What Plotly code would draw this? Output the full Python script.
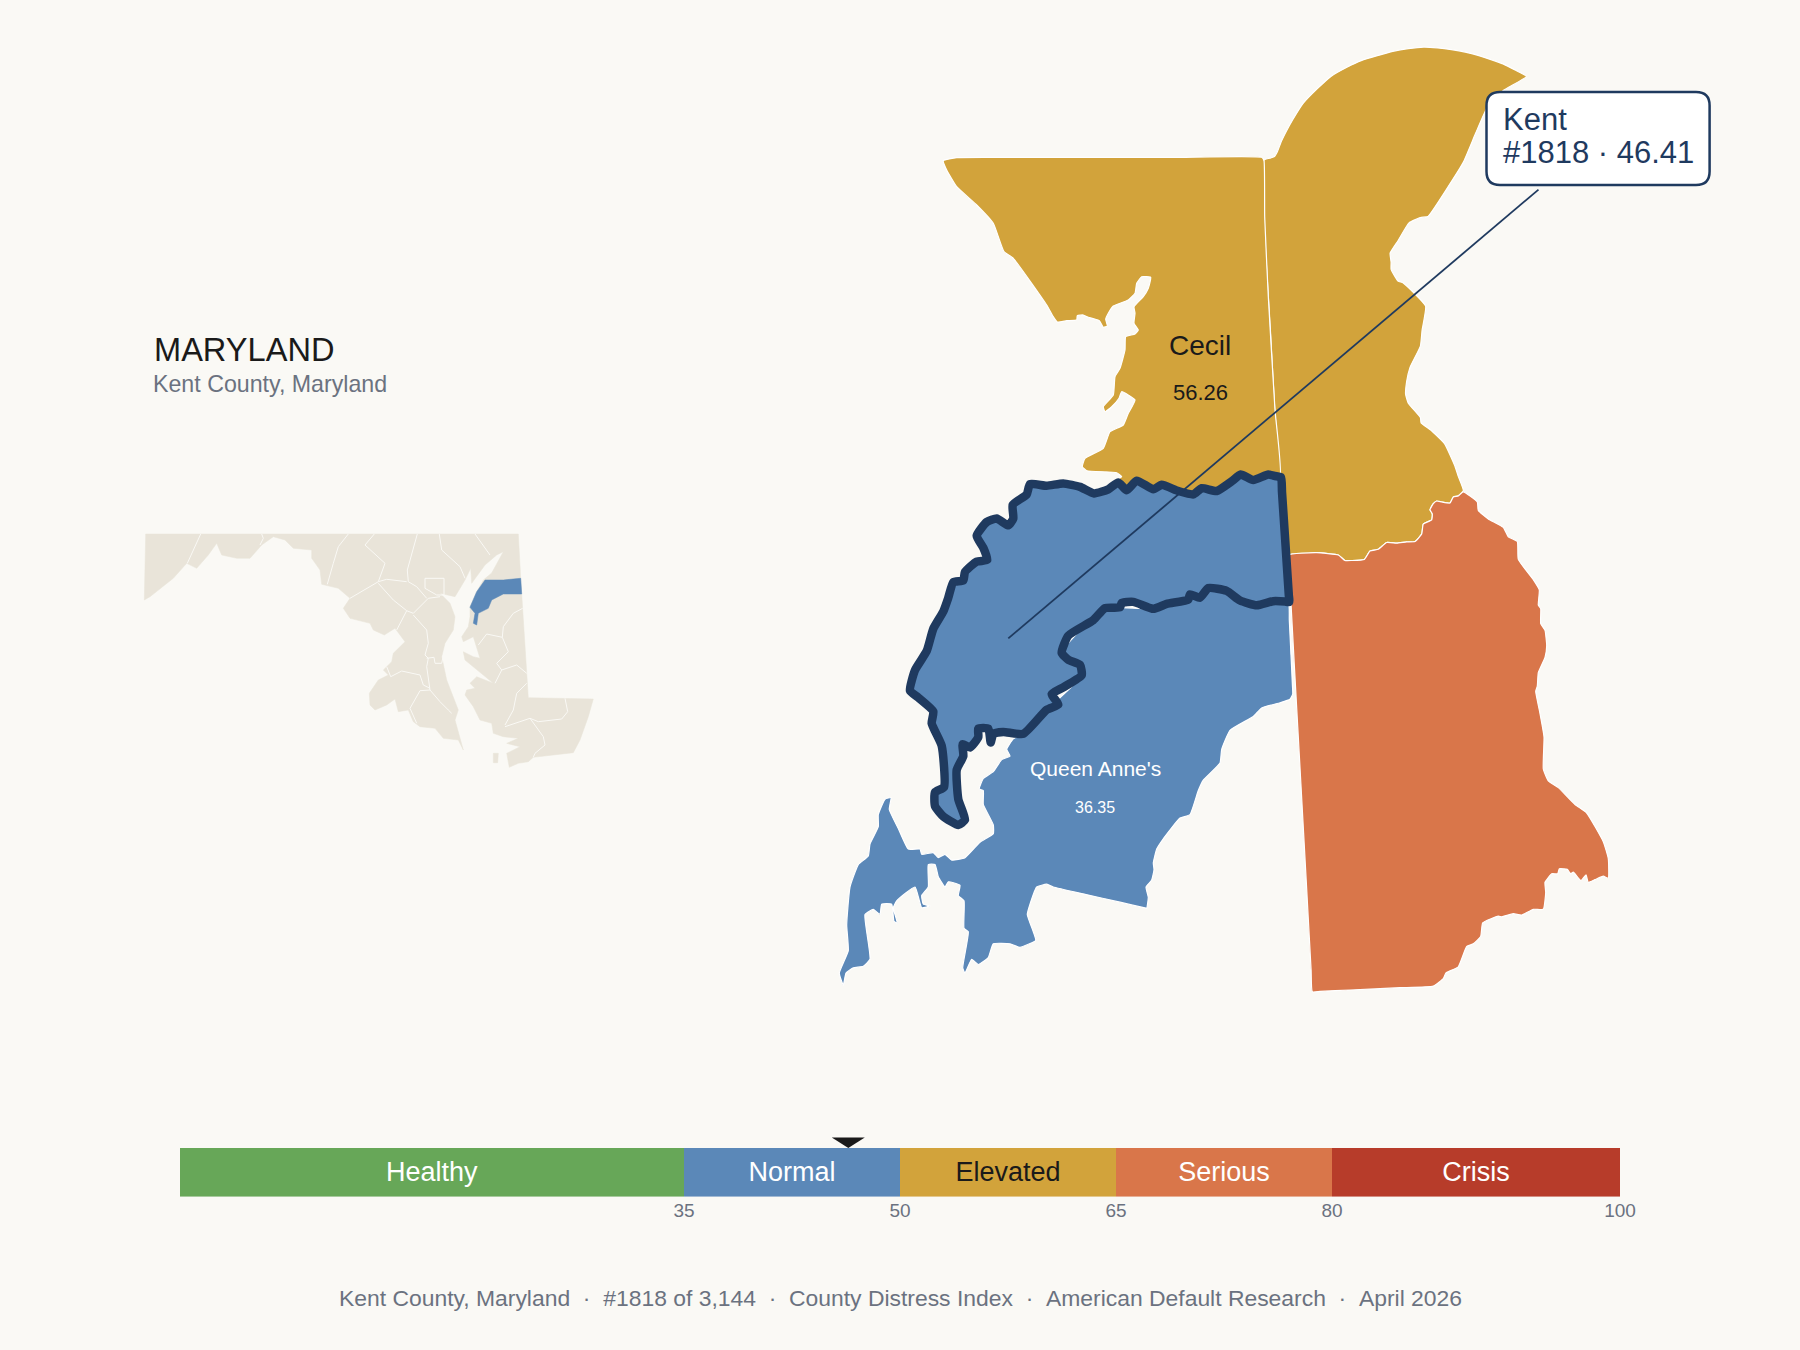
import plotly.graph_objects as go

# page colours
BG = "#FAF9F5"
GOLD = "#D2A33B"
BLUE = "#5B88B8"
ORANGE = "#D9764A"
GREEN = "#67A758"
RED = "#B73C2A"
NAVY = "#1F3A5F"
BEIGE = "#E9E4D9"
INK = "#1A1A1A"
GRAY = "#6B7280"
FONT = "Liberation Sans"

# index bands
BAND_NAMES = ["Healthy", "Normal", "Elevated", "Serious", "Crisis"]
BAND_START = [0, 35, 50, 65, 80]
BAND_WIDTH = [35, 15, 15, 15, 20]
BAND_COLORS = [GREEN, BLUE, GOLD, ORANGE, RED]
BAND_TEXT = ["white", "white", INK, "white", "white"]
BAND_TICKS = [35, 50, 65, 80, 100]
KENT_SCORE = 46.41

# county outlines, traced on the 1800x1350 page
CECIL_X = [943.3, 956.7, 1000, 1050, 1106.7, 1180, 1261.7, 1264, 1264.7, 1268.3, 1275, 1280, 1268.3, 1253.3, 1240, 1230, 1215, 1193.3,
           1180, 1160, 1153.3, 1136.7, 1126.7, 1116.7, 1121.7, 1116.7, 1086.7, 1082.3, 1085, 1103.3, 1110, 1123.3,
           1128.3, 1135, 1121.7, 1119, 1111.7, 1105, 1103.3, 1113.3, 1115, 1120, 1125, 1125.7, 1135, 1138.3, 1134,
           1135, 1134, 1143.3, 1148.3, 1150.7, 1141.7, 1136.7, 1135, 1128.3, 1113.3, 1108.3, 1105.7, 1107.3, 1103.3,
           1099.3, 1088.3, 1083.3, 1077.3, 1076.7, 1066.7, 1057.3, 1053.3, 1046.7, 1013.3, 1004, 993.3, 976.7, 956.7,
           946.7, 943.3]
CECIL_Y = [160.7, 157.7, 157.4, 157.4, 157.3, 157.3, 157.3, 160.7, 216.7, 296.7, 410, 475, 473.3, 476.7, 473.3, 480, 490, 495,
           490, 483.3, 488.3, 480, 488.3, 480, 476.7, 472.7, 470.7, 466.7, 458.3, 448.3, 431.7, 425,
           413.3, 400, 391.7, 398.3, 406.7, 411.7, 406.7, 395, 376.7, 368.3, 350, 336.7, 334, 330, 323.3,
           313.3, 306.7, 296.7, 288.3, 277.3, 276.7, 283.3, 293.3, 300, 306, 313.3, 319.3, 326, 327.3,
           320.7, 317.3, 315, 315.7, 320, 320.7, 322, 316.7, 305, 258.3, 251.7, 223.3, 205, 186.7,
           170, 160.7]

NEW_CASTLE_X = [1265.4, 1274, 1277.5, 1280.9, 1286.1, 1293, 1303.3, 1317.1, 1330.9, 1346.4, 1361.8, 1377.3, 1392.8,
                1408.3, 1423.8, 1437.6, 1451.4, 1465.2, 1478.9, 1491, 1503, 1515.1, 1526.4,
                1503, 1487.5, 1475.5, 1463.4, 1447.9, 1428, 1420.4, 1409, 1398, 1390.1, 1391.1, 1391.1, 1398, 1403.2,
                1425.6, 1422.1, 1420.4, 1410, 1406.6, 1405.6, 1408.3, 1420.4, 1421.1, 1430.7, 1444.5, 1454.8, 1458.3,
                1463.4, 1458.3, 1453.3, 1450, 1441.7, 1436.7, 1433.3, 1430, 1432.3, 1431.7, 1423.3, 1421.7, 1415,
                1406.7, 1396.7, 1386.7, 1378.3, 1370, 1364.3, 1351.7, 1345, 1338.3, 1316.7, 1288.3, 1279.9, 1274.7,
                1270.6, 1263.7, 1263.7, 1265.4]
NEW_CASTLE_Y = [159.3, 156.8, 151.4, 142.5, 131.8, 119.3, 103.2, 88.9, 76.4, 67.5, 60.4, 55.7, 51.4,
                48.6, 47.1, 47.9, 49.6, 52.1, 55.7, 59.6, 63.9, 70, 76.4,
                90.7, 106.8, 133.6, 162.1, 187.1, 216.4, 217.5, 222.9, 240.7, 253.2, 262.1, 269.3, 281.1, 282.9,
                306.1, 330, 346.1, 367.5, 381.8, 394.3, 403.2, 417.5, 422.9, 430, 443.6, 465.7, 476.4,
                490.7, 495.9, 496.9, 503, 502, 501, 503.7, 509.7, 513.8, 519.9, 524, 534.1, 541.5,
                541.9, 543.2, 542.5, 549.3, 551, 559.4, 560.5, 560.5, 555, 552.7, 554.4, 476.4, 408.6,
                333.6, 215.7, 160.4, 159.3]

KENT_DE_X = [1288.3, 1316.7, 1338.3, 1345, 1351.7, 1364.3, 1370, 1378.3, 1386.7, 1396.7, 1406.7, 1415, 1421.7, 1423.3,
             1431.7, 1432.3, 1430, 1433.3, 1436.7, 1441.7, 1450, 1453.3, 1458.3, 1463.3, 1477.3, 1478.3, 1488.3, 1503.3,
             1508.3, 1517.3, 1518.3, 1533.3, 1539.3, 1538.3, 1540.7, 1540.7, 1545, 1546.7, 1545, 1538.3, 1537.3, 1535.7,
             1539.3, 1544, 1543.3, 1548.3, 1558.3, 1575, 1586.7, 1603.3, 1608.3, 1608.3, 1603.3, 1595, 1588.3, 1586,
             1581, 1573.3, 1570.7, 1567.3, 1559.3, 1557.7, 1551.7, 1545, 1545.7, 1543.3, 1533.3, 1521.7, 1513.3, 1501.7,
             1498.3, 1482.7, 1480.7, 1473.3, 1466.7, 1458.3, 1446, 1443.3, 1433.3, 1400, 1350, 1320, 1312.3, 1311.1,
             1306.3, 1300.9, 1294.6, 1289.6, 1288.3]
KENT_DE_Y = [555, 552.7, 555, 560.5, 560.5, 559.4, 551, 549.3, 542.5, 543.2, 541.9, 541.5, 534.1, 524,
             519.9, 513.8, 509.7, 503.7, 501, 502, 503, 496.9, 495.9, 491.8, 502, 510.4, 518.9, 527.3,
             536.8, 541.5, 559.4, 579.7, 589.9, 605.1, 608.5, 623.7, 630.4, 645.7, 657.5, 672.7, 686.2, 691.3,
             709.9, 736.9, 769, 780.9, 787.6, 804.5, 813, 841.7, 858.6, 878.2, 876.2, 879.6, 882.3, 874.9,
             880.6, 872.2, 873.8, 869.4, 868.8, 873.8, 873.8, 882.3, 892.4, 909.3, 909.3, 915.1, 913.7, 916.8,
             916.1, 922.9, 936.4, 943.8, 946.5, 966.8, 972.9, 978.6, 986.1, 987.7, 990, 991.4, 991.8, 970,
             882, 784, 670, 578, 555]

QUEEN_ANNES_X = [1288.3, 1289.3, 1291, 1292.4, 1292.7, 1290, 1280, 1261.7, 1253.3, 1230, 1221.7, 1220, 1203.3, 1198.3, 1190, 1180, 1163.3,
                 1156.7, 1153.3, 1154, 1151.7, 1146, 1148.3, 1146.7, 1146, 1120, 1085, 1053.3, 1046.7, 1036.7, 1030, 1027.3, 1033.3,
                 1035.7, 1020, 1010, 993.3, 988.3, 978.3, 971.7, 965, 962.7, 968.3, 964, 964, 958.3, 960, 948.3, 945,
                 938.3, 935, 928.3, 928.3, 921.7, 923.3, 930, 921.7, 915, 896.7, 893.3, 897.3, 894, 891.7, 881.7, 880,
                 873.3, 865, 866.7, 870, 863.3, 853.3, 846, 843.3, 839.3, 848.3, 846.7, 850, 858.3, 868.3, 870, 878.3,
                 878.3, 885, 891, 889.3, 898.3, 908.3, 920, 921.7, 933.3, 938.3, 945, 951.7, 965, 980, 993.3, 993.3,
                 983.3, 983.3, 979.3, 983.3, 993.3, 1001.7, 1010, 1006.7, 1013.3, 1023.3, 1046.7, 1081.7, 1061.7, 1105,
                 1153.3, 1208.3, 1256.7, 1288.3]
QUEEN_ANNES_Y = [601.9, 620, 655, 685, 694.2, 699.3, 702.8, 707.9, 716.5, 730.3, 749.3, 763, 780.2, 790.6, 814.7, 818.1, 838.8,
                 849.1, 862.9, 869.8, 880.1, 887, 897.3, 908.3, 908.1, 902.2, 894.3, 887, 884.2, 887, 904.2, 914.5, 931.8,
                 940.4, 947.3, 943.8, 943.8, 957.6, 964.5, 959.3, 973.1, 967.9, 931.8, 928.3, 900.8, 895.6, 885.3, 881.8, 887,
                 876.7, 864.6, 864.6, 887, 895.6, 904.2, 905.9, 907.7, 887, 900.8, 907.7, 923.2, 921.4, 904.2, 904.2, 914.5,
                 909.4, 914.5, 931.8, 959.3, 966.2, 967.9, 973.1, 985.1, 973.1, 950.7, 924.9, 887, 864.6, 856, 844, 826.7,
                 814.7, 799.2, 797.5, 809.5, 828.5, 849.1, 849.1, 854.3, 852.6, 857.7, 854.3, 860.1, 857.7, 842.2, 833.6, 825,
                 804.4, 790.6, 788.9, 778.5, 771.6, 759.6, 756.1, 749.3, 738.9, 733.8, 709.7, 675.2, 652.8, 608.1,
                 608.8, 588.1, 605.3, 601.9]

KENT_X = [1281, 1275, 1268.3, 1253.3, 1240.7, 1231.7, 1216.7, 1201.7, 1193.3, 1178.3, 1161.7, 1153.3, 1136.7, 1126.7, 1118.3,
          1108.3, 1094, 1080, 1063.3, 1046.7, 1030, 1026.7, 1012.7, 1013.3, 1008.3, 996.7, 986.7, 976.7, 983.3, 987.3,
          976.7, 965, 963.3, 953.3, 948.3, 943.3, 933.3, 926.7, 915, 910, 918.3, 933.3, 931.7, 941.7, 944, 935, 935,
          943.3, 958.3, 965, 958.3, 956.7, 963.3, 962.7, 970, 978.3, 978.3, 988.3, 990.7, 993.3, 1003.3, 1023.3, 1046.7,
          1058.3, 1051.7, 1063.3, 1081.7, 1080, 1068.3, 1061.7, 1068.3, 1093.3, 1105, 1120, 1121.7, 1133.3, 1153.3,
          1166.7, 1188.3, 1190, 1200, 1208.3, 1226.7, 1240, 1256.7, 1273.3, 1285, 1289.3, 1288.8, 1285.2, 1282, 1281]
KENT_Y = [477.2, 476, 474.5, 480, 474.5, 481.3, 491, 488.2, 494.4, 491, 484.8, 489.3, 480.7, 490.3, 482.4,
          489.3, 493.4, 486.9, 483.4, 485.8, 484.1, 494.4, 504.8, 518.5, 525.4, 518.5, 522, 535.8, 547.8, 559.9,
          561.6, 571.9, 580.5, 582.2, 597.7, 611.5, 628.7, 651.1, 670.1, 690.7, 697.6, 711.4, 723.4, 745.8, 787.1, 792.3, 806.1,
          816.4, 825, 819.8, 799.2, 769.9, 756.1, 744.1, 747.5, 737.2, 728.6, 728.6, 742.4, 733.8, 732, 733.8, 709.7,
          704.5, 694.2, 687.3, 675.2, 664.9, 659.7, 652.8, 635.6, 620.1, 608.1, 607.4, 602.9, 601.9, 608.8,
          603.9, 599.5, 594.3, 597.7, 588.1, 590.9, 600.5, 605.3, 601.2, 601.5, 601.9, 595, 540, 492, 477.2]

# Kent leader line ends
LEADER_X = [1008.3, 1538.5]
LEADER_Y = [638.4, 189.6]

# state inset
INSET_STATE_X = [145.7, 518.3, 520.7, 528.3, 593.3, 588.3, 580, 573.3, 533.3, 528.3, 518.3, 509.3, 506.7, 520, 506.7,
                 518.3, 503.3, 493.3, 491.7, 480, 473.3, 465, 466.7, 475, 470, 476.7, 493.3, 483.3, 470, 465, 463.3,
                 473.3, 480, 476.7, 473.3, 463.3, 461.7, 468.3, 470, 470, 476.7, 483.3, 491.7, 503.3, 496.7, 485,
                 476.7, 471.7, 470.7, 465, 455, 440, 450, 455, 453.3, 445, 441.7, 446.7, 458.3, 455, 463.3, 458.3,
                 443.3, 435, 420, 413.3, 408.3, 398.3, 395, 386.7, 375, 370, 369.3, 378.3, 388.3, 383.3, 391.7, 393.3,
                 405, 395, 384.3, 373.3, 370, 350, 343.3, 350, 338.3, 321.7, 320, 311.7, 311.7, 298.3, 293.3, 285,
                 273.3, 261.7, 250, 236.7, 221.7, 216.7, 208.3, 196.7, 186.7, 173.3, 160, 150, 144.3, 145.7,
                 None, 493.3, 498.3, 497.7, 493.3, 493.3]
INSET_STATE_Y = [534, 534, 578.3, 697.7, 699, 716.7, 740, 752.7, 757.3, 761.7, 763.3, 767.3, 753.3, 746.7, 743.3,
                 738.3, 736.7, 733.3, 723.3, 720, 706.7, 695, 690, 688.3, 683.3, 676.7, 683.3, 675, 663.3, 660, 651.7,
                 656.7, 658.3, 648.3, 636.7, 641.7, 636.7, 626.7, 616.7, 606.7, 591.7, 580, 573, 551.7, 555, 565,
                 576.7, 583.3, 568.3, 580, 596.7, 593.3, 603.3, 616.7, 630, 643.3, 656.7, 680, 710, 720, 750, 740,
                 738.3, 728.3, 726.7, 721.7, 710, 711.7, 699, 705, 710, 705, 693.3, 680, 675, 670, 661.7, 653.3,
                 641.7, 628.3, 635, 630, 623.3, 618.3, 608.3, 598.3, 588.3, 584.3, 570, 558.3, 550, 548.3, 548.3, 540,
                 536.7, 545, 558.3, 558.3, 555, 543.3, 555, 568.3, 563.3, 578.3, 588.3, 596.7, 600, 534,
                 None, 753.3, 753.3, 762.7, 762.7, 753.3]

INSET_KENT_X = [485, 503.3, 520.7, 521.7, 503.3, 491.7, 488.3, 478.3, 476.7, 473.3, 475, 470, 476.7, 485]
INSET_KENT_Y = [580, 580, 578.3, 594, 594, 600, 608.3, 613.3, 625, 623.3, 613.3, 607.3, 591.7, 580]

INSET_BORDERS = [
    ([200.7, 187.3], [534, 563.3]),
    ([261.7, 263.3, 260], [534, 538.3, 545]),
    ([348.3, 338.3, 333.3, 327.3], [534, 546.7, 563.3, 584.3]),
    ([374.3, 365, 385, 378.3, 350], [534, 545, 563.3, 581.7, 598.3]),
    ([417.3, 407.3, 408.3, 416.7, 426.7], [534, 570, 581.7, 586.7, 598.3]),
    ([439.3, 441.7, 460, 465], [534, 550, 566.7, 578.3]),
    ([475, 490], [534, 555]),
    ([425, 444, 444, 436.7, 425, 425], [578.3, 578.3, 595, 595, 588.3, 578.3]),
    ([378.3, 386.7, 406.7], [581.7, 579.3, 581.7]),
    ([378.3, 393.3, 406.7, 413.3, 428.3, 440], [583.3, 600, 610.7, 613.3, 598.3, 596.7]),
    ([406.7, 396.7], [610.7, 630]),
    ([413.3, 426.7, 428.3, 425, 428.3], [615, 630, 643.3, 655, 658.3]),
    ([426.7, 434, 435, 441.7, 443.3], [658.3, 657.3, 663.3, 663.3, 655]),
    ([386.7, 390.7, 401.7, 420, 423.3, 430], [666.7, 676.7, 671, 675, 685, 688.3]),
    ([428.3, 426.7, 430, 440, 448.3, 451.7], [658.3, 666.7, 690, 701.7, 710, 713.3]),
    ([430, 420, 410, 416.7], [690, 690.7, 708.3, 723.3]),
    ([522.7, 513.3, 503.3, 502.3, 486.7, 478.3], [608.3, 613.3, 626.7, 637.3, 634, 645]),
    ([502.3, 508.3, 496.7, 501.7, 516.7, 526.7], [637.3, 651.7, 663.3, 670, 665, 673.3]),
    ([501.7, 495], [670, 683.3]),
    ([526.7, 516.7, 513.3, 505], [683.3, 693.3, 710, 725]),
    ([505, 530, 538.3, 561.7, 567.7, 565], [726.7, 718.3, 721.7, 719, 711.7, 698.3]),
    ([530, 543.3, 545, 535, 533.3], [718.3, 736.7, 745, 753.3, 757.3]),
]

FOOTER = "\u00a0\u00a0·\u00a0\u00a0".join(["Kent County, Maryland", "#1818 of 3,144", "County Distress Index",
                                         "American Default Research", "April 2026"])

fig = go.Figure()

################# main map

counties = [
    ("Queen Anne's", QUEEN_ANNES_X, QUEEN_ANNES_Y, BLUE),
    ("New Castle", NEW_CASTLE_X, NEW_CASTLE_Y, GOLD),
    ("Cecil", CECIL_X, CECIL_Y, GOLD),
    ("Kent, DE", KENT_DE_X, KENT_DE_Y, ORANGE),
]
for name, xs, ys, color in counties:
    fig.add_trace(go.Scatter(x=xs, y=ys, mode="lines", fill="toself", fillcolor=color, name=name,
                             line=dict(color="white", width=1.2, shape="spline", smoothing=0.4), hoverinfo="name"))

fig.add_trace(go.Scatter(x=KENT_X, y=KENT_Y, mode="lines", fill="toself", fillcolor=BLUE, name="Kent",
                         line=dict(color=NAVY, width=8.5, shape="spline", smoothing=0.5), hoverinfo="name"))
fig.add_trace(go.Scatter(x=LEADER_X, y=LEADER_Y, mode="lines", line=dict(color=NAVY, width=1.8), hoverinfo="skip"))

################# inset

fig.add_trace(go.Scatter(x=INSET_STATE_X, y=INSET_STATE_Y, mode="lines", fill="toself", fillcolor=BEIGE,
                         line=dict(color=BEIGE, width=0.5), hoverinfo="skip"))
for xs, ys in INSET_BORDERS:
    fig.add_trace(go.Scatter(x=xs, y=ys, mode="lines", line=dict(color=BG, width=1), hoverinfo="skip"))
fig.add_trace(go.Scatter(x=INSET_KENT_X, y=INSET_KENT_Y, mode="lines", fill="toself", fillcolor=BLUE,
                         line=dict(color=BLUE, width=0.5), hoverinfo="skip"))

################# index bar

fig.add_trace(go.Bar(y=["index"] * 5, x=BAND_WIDTH, base=BAND_START, orientation="h", xaxis="x2", yaxis="y2",
                     width=1, marker=dict(color=BAND_COLORS, line=dict(width=0)), text=BAND_NAMES,
                     textposition="inside", insidetextanchor="middle", textangle=0,
                     textfont=dict(family=FONT, size=27, color=BAND_TEXT), hoverinfo="skip"))

# marker above the bar, placed from the score
bar_left = 180
bar_scale = 14.4
tip = bar_left + KENT_SCORE * bar_scale
fig.add_trace(go.Scatter(x=[tip - 16.5, tip + 16.5, tip, tip - 16.5], y=[1137.5, 1137.5, 1148, 1137.5], mode="lines",
                         fill="toself", fillcolor=INK, line=dict(color=INK, width=0), hoverinfo="skip"))

fig.update_layout(
    width=1800,
    height=1350,
    showlegend=False,
    barmode="overlay",
    paper_bgcolor=BG,
    plot_bgcolor=BG,
    margin=dict(l=0, r=0, t=0, b=0, autoexpand=False),
    font=dict(family=FONT),
    xaxis=dict(range=[0, 1800], visible=False, fixedrange=True, automargin=False),
    yaxis=dict(range=[1350, 0], visible=False, fixedrange=True, automargin=False),
    xaxis2=dict(domain=[0.1, 0.9], range=[0, 100], anchor="y2", showgrid=False, zeroline=False, showline=False,
                tickmode="array", tickvals=BAND_TICKS, ticks="", tickfont=dict(family=FONT, size=19, color=GRAY),
                fixedrange=True, automargin=False),
    yaxis2=dict(domain=[1 - 1196.8 / 1350, 1 - 1148 / 1350], anchor="x2", visible=False, fixedrange=True,
                automargin=False),
)


def label(x, baseline, text, size, color, anchor="center"):
    # annotations have no baseline anchor, so go from the bottom of the text box
    fig.add_annotation(x=x, y=baseline + 0.212 * size + 1, text=text, showarrow=False, xanchor=anchor, yanchor="bottom",
                       font=dict(family=FONT, size=size, color=color), xref="x", yref="y")


label(1200, 356, "Cecil", 28, INK)
label(1200, 401, "56.26", 22, INK)
label(1095, 776.8, "Queen Anne's", 21, "white")
label(1095, 814, "36.35", 16, "white")
label(152, 361.7, "MARYLAND", 32.6, INK, "left")
label(151, 392.7, "Kent County, Maryland", 23.2, GRAY, "left")
label(900.5, 1307, FOOTER, 22.9, GRAY)

# callout box
fig.add_shape(type="path", xref="x", yref="y", fillcolor="white", line=dict(color=NAVY, width=2.5),
              path="M 1500 92 L 1696 92 Q 1709.6 92 1709.6 105.5 L 1709.6 171.5 Q 1709.6 185 1696 185 "
                   "L 1500 185 Q 1486.5 185 1486.5 171.5 L 1486.5 105.5 Q 1486.5 92 1500 92 Z")
label(1501, 131.5, "Kent", 31, NAVY, "left")
label(1501, 164.5, "#1818 · 46.41", 31, NAVY, "left")

# the page's own 8px body margin would push the figure off the window
fig.write_html("out.html", config={"displayModeBar": False},
               post_script="document.body.style.margin='0';document.body.style.overflow='hidden';")
